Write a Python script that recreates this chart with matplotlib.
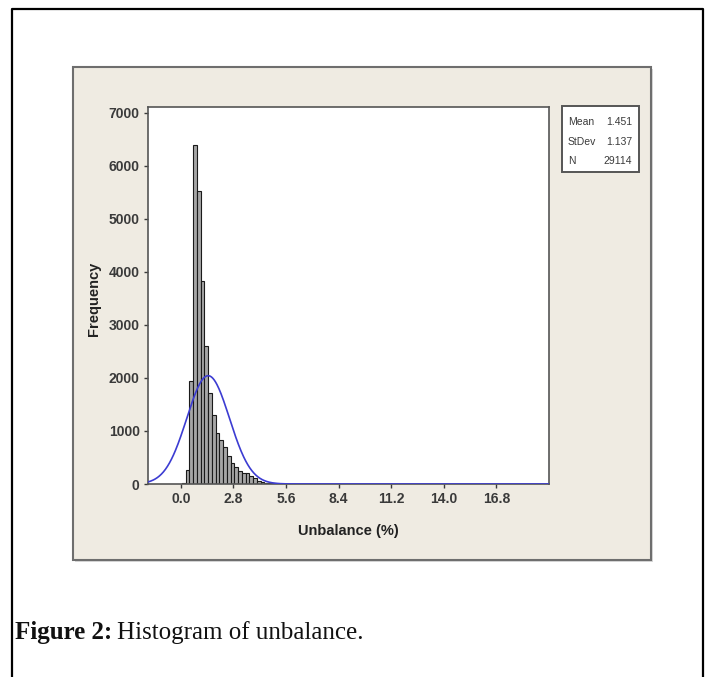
import numpy as np
import matplotlib
matplotlib.use("Agg")
import matplotlib.pyplot as plt
from matplotlib.patches import Rectangle
from matplotlib.lines import Line2D

# histogram data (bin width 0.2)
bin_left = [0.05, 0.25, 0.45, 0.65, 0.85, 1.05, 1.25, 1.45, 1.65, 1.85,
            2.05, 2.25, 2.45, 2.65, 2.85, 3.05, 3.25, 3.45, 3.65, 3.85,
            4.05, 4.25, 4.45, 4.65, 4.85, 5.05, 5.25, 5.45, 5.65, 5.85,
            6.05, 6.25, 6.45, 6.65, 6.85, 7.05, 7.25, 7.45, 7.65, 7.85]
counts = [20, 265, 1950, 6400, 5530, 3820, 2600, 1720, 1300, 960,
          830, 700, 530, 400, 330, 250, 215, 215, 150, 110,
          65, 40, 22, 15, 10, 8, 6, 5, 4, 3,
          3, 2, 3, 2, 2, 2, 1, 2, 1, 1]
bin_width = 0.2

stat_names = ["Mean", "StDev", "N"]
stat_values = ["1.451", "1.137", "29114"]
mean, stdev, n_obs = 1.451, 1.137, 29114

x_ticks = [0.0, 2.8, 5.6, 8.4, 11.2, 14.0, 16.8]
y_ticks = [0, 1000, 2000, 3000, 4000, 5000, 6000, 7000]

W, H = 709, 677
fig = plt.figure(figsize=(W / 100, H / 100), dpi=100)
fig.patch.set_facecolor("white")

def fx(px):
    return px / W

def fy(py):
    return 1 - py / H

sans = ["Liberation Sans", "DejaVu Sans"]
serif = ["Liberation Serif", "DejaVu Serif"]
dark = "#3a3a3a"

# outer frame, open at the bottom
fig.add_artist(Line2D([fx(12), fx(12), fx(703), fx(703)],
                      [0, fy(9), fy(9), 0], color="black", lw=1.6,
                      transform=fig.transFigure))

# beige graph panel with a soft shadow
fig.add_artist(Rectangle((fx(75), fy(562)), fx(578), 493 / H,
                         transform=fig.transFigure, facecolor="#d8d8d8",
                         edgecolor="none", zorder=0))
fig.add_artist(Rectangle((fx(73), fy(560)), fx(578), 493 / H,
                         transform=fig.transFigure, facecolor="#efebe2",
                         edgecolor="#6e6e6e", lw=1.5, zorder=1))

ax = fig.add_axes([fx(148), fy(484), fx(401), 377 / H])
ax.set_zorder(2)
ax.set_facecolor("white")

ax.bar(bin_left, counts, width=bin_width, align="edge", color="#a6a6a6",
       edgecolor="#1a1a1a", linewidth=0.8, zorder=2)

xs = np.linspace(-1.75, 19.6, 600)
curve = n_obs * bin_width / (stdev * np.sqrt(2 * np.pi)) * np.exp(-0.5 * ((xs - mean) / stdev) ** 2)
ax.plot(xs, curve, color="#3c3cd2", lw=1.2, zorder=3)

ax.set_xlim(-1.75, 19.6)
ax.set_ylim(0, 7110)
ax.set_xticks(x_ticks)
ax.set_xticklabels([f"{t:.1f}" for t in x_ticks])
ax.set_yticks(y_ticks)
ax.set_yticklabels([str(t) for t in y_ticks])
ax.tick_params(direction="out", length=3, width=1, color=dark, labelcolor=dark,
               labelsize=10, pad=3)
for lab in ax.get_xticklabels() + ax.get_yticklabels():
    lab.set_family(sans)
    lab.set_fontweight("bold")
for sp in ax.spines.values():
    sp.set_color("#555555")
    sp.set_linewidth(1.2)

ax.set_xlabel("Unbalance (%)", family=sans, fontweight="bold", fontsize=10.5,
              color="#222222")
ax.set_ylabel("Frequency", family=sans, fontweight="bold", fontsize=10.5,
              color="#222222")
ax.xaxis.set_label_coords(0.5, -0.105)
ax.yaxis.set_label_coords(-0.117, 0.49)

# statistics box
fig.add_artist(Rectangle((fx(562), fy(172)), fx(77), 66 / H,
                         transform=fig.transFigure, facecolor="white",
                         edgecolor="#555555", lw=1.4, zorder=3))
row_y = [122, 142, 161]
for name, val, yy in zip(stat_names, stat_values, row_y):
    fig.text(fx(568), fy(yy), name, family=sans, fontsize=7.5, color=dark,
             va="center", ha="left", zorder=4)
    fig.text(fx(632), fy(yy), val, family=sans, fontsize=7.5, color=dark,
             va="center", ha="right", zorder=4)

# caption
cap = fig.text(fx(15), fy(633), "Figure 2:", family=serif, fontweight="bold",
               fontsize=18, color="#111111", va="center", ha="left")
fig.canvas.draw()
bb = cap.get_window_extent()
fig.text(bb.x1 / W + fx(5), fy(633), "Histogram of unbalance.", family=serif,
         fontsize=18, color="#111111", va="center", ha="left")

fig.savefig("out.png", dpi=100, facecolor="white")
